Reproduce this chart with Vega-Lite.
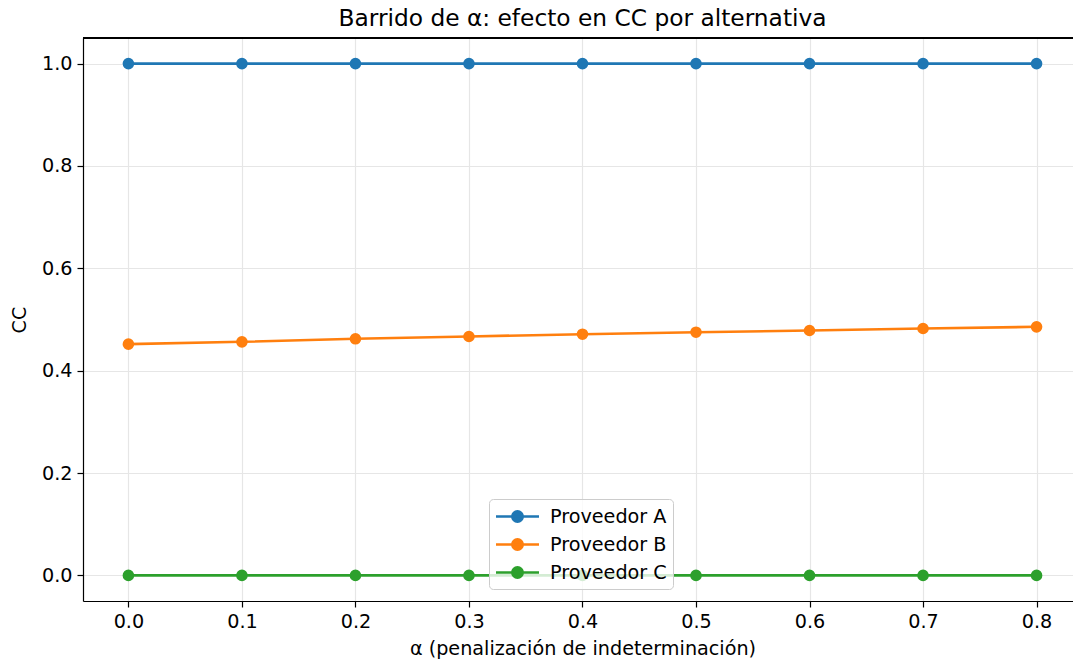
{
  "$schema": "https://vega.github.io/schema/vega-lite/v6.json",
  "autosize": {"type": "none"},
  "width": 990,
  "height": 563,
  "padding": {"left": 83, "top": 38, "right": 0, "bottom": 64},
  "background": "white",
  "title": {"text": "Barrido de α: efecto en CC por alternativa", "font": "DejaVu Sans", "fontSize": 23.3, "fontWeight": "normal", "color": "black", "anchor": "middle", "dx": 4.5, "offset": 6},
  "config": {
    "view": {"stroke": null},
    "font": "DejaVu Sans",
    "axis": {
      "labelFont": "DejaVu Sans", "labelFontSize": 19.2, "labelColor": "black",
      "titleFont": "DejaVu Sans", "titleFontSize": 19.2, "titleFontWeight": "normal", "titleColor": "black",
      "domainColor": "black", "domainWidth": 1.2, "tickColor": "black", "tickWidth": 1.2, "tickSize": 6,
      "grid": true, "gridColor": "#e6e6e6", "gridWidth": 1.2, "labelPadding": 5
    }
  },
  "data": {"values": [
    {"alpha": 0.0, "proveedor": "Proveedor A", "cc": 1.0},
    {"alpha": 0.1, "proveedor": "Proveedor A", "cc": 1.0},
    {"alpha": 0.2, "proveedor": "Proveedor A", "cc": 1.0},
    {"alpha": 0.3, "proveedor": "Proveedor A", "cc": 1.0},
    {"alpha": 0.4, "proveedor": "Proveedor A", "cc": 1.0},
    {"alpha": 0.5, "proveedor": "Proveedor A", "cc": 1.0},
    {"alpha": 0.6, "proveedor": "Proveedor A", "cc": 1.0},
    {"alpha": 0.7, "proveedor": "Proveedor A", "cc": 1.0},
    {"alpha": 0.8, "proveedor": "Proveedor A", "cc": 1.0},
    {"alpha": 0.0, "proveedor": "Proveedor B", "cc": 0.4518},
    {"alpha": 0.1, "proveedor": "Proveedor B", "cc": 0.4564},
    {"alpha": 0.2, "proveedor": "Proveedor B", "cc": 0.4623},
    {"alpha": 0.3, "proveedor": "Proveedor B", "cc": 0.4668},
    {"alpha": 0.4, "proveedor": "Proveedor B", "cc": 0.4713},
    {"alpha": 0.5, "proveedor": "Proveedor B", "cc": 0.4752},
    {"alpha": 0.6, "proveedor": "Proveedor B", "cc": 0.4785},
    {"alpha": 0.7, "proveedor": "Proveedor B", "cc": 0.4824},
    {"alpha": 0.8, "proveedor": "Proveedor B", "cc": 0.4857},
    {"alpha": 0.0, "proveedor": "Proveedor C", "cc": 0.0},
    {"alpha": 0.1, "proveedor": "Proveedor C", "cc": 0.0},
    {"alpha": 0.2, "proveedor": "Proveedor C", "cc": 0.0},
    {"alpha": 0.3, "proveedor": "Proveedor C", "cc": 0.0},
    {"alpha": 0.4, "proveedor": "Proveedor C", "cc": 0.0},
    {"alpha": 0.5, "proveedor": "Proveedor C", "cc": 0.0},
    {"alpha": 0.6, "proveedor": "Proveedor C", "cc": 0.0},
    {"alpha": 0.7, "proveedor": "Proveedor C", "cc": 0.0},
    {"alpha": 0.8, "proveedor": "Proveedor C", "cc": 0.0}
  ]},
  "layer": [
    {
      "mark": {"type": "rule", "color": "black", "strokeWidth": 1.2},
      "encoding": {"y": {"datum": 1.05, "type": "quantitative", "scale": {"domain": [-0.05, 1.05], "nice": false, "zero": false},
        "axis": {"values": [0, 0.2, 0.4, 0.6, 0.8, 1.0], "format": ".1f", "title": "CC", "titlePadding": 12, "grid": true}}}
    },
    {
      "mark": {"type": "line", "strokeWidth": 2.6, "point": {"filled": true, "size": 135, "opacity": 1}},
      "encoding": {
        "x": {"field": "alpha", "type": "quantitative",
          "scale": {"domain": [-0.04, 0.8321], "nice": false, "zero": false},
          "axis": {"values": [0, 0.1, 0.2, 0.3, 0.4, 0.5, 0.6, 0.7, 0.8], "format": ".1f", "title": "α (penalización de indeterminación)", "titleX": 499.5, "titleAlign": "center", "titlePadding": 8, "grid": true}},
        "y": {"field": "cc", "type": "quantitative",
          "scale": {"domain": [-0.05, 1.05], "nice": false, "zero": false},
          "axis": {"values": [0, 0.2, 0.4, 0.6, 0.8, 1.0], "format": ".1f", "title": "CC", "titlePadding": 12, "grid": true}},
        "color": {"field": "proveedor", "type": "nominal",
          "scale": {"domain": ["Proveedor A", "Proveedor B", "Proveedor C"], "range": ["#1f77b4", "#ff7f0e", "#2ca02c"]},
          "legend": {
            "title": null, "orient": "none", "legendX": 406, "legendY": 461,
            "symbolType": "M-2.15,0L2.15,0M-0.52,0A0.52,0.52,0,1,1,0.52,0A0.52,0.52,0,1,1,-0.52,0Z",
            "symbolSize": 400, "symbolStrokeWidth": 2.6, "symbolOffset": 11,
            "labelFont": "DejaVu Sans", "labelFontSize": 19.2, "labelColor": "black", "labelOffset": 21,
            "rowPadding": 6, "padding": 6,
            "fillColor": "rgba(255,255,255,0.8)", "strokeColor": "#cccccc", "cornerRadius": 4,
            "encode": {"symbols": {"update": {"fill": {"scale": "color", "field": "value"}, "stroke": {"scale": "color", "field": "value"}, "opacity": {"value": 1}}}}
          }}
      }
    }
  ]
}
